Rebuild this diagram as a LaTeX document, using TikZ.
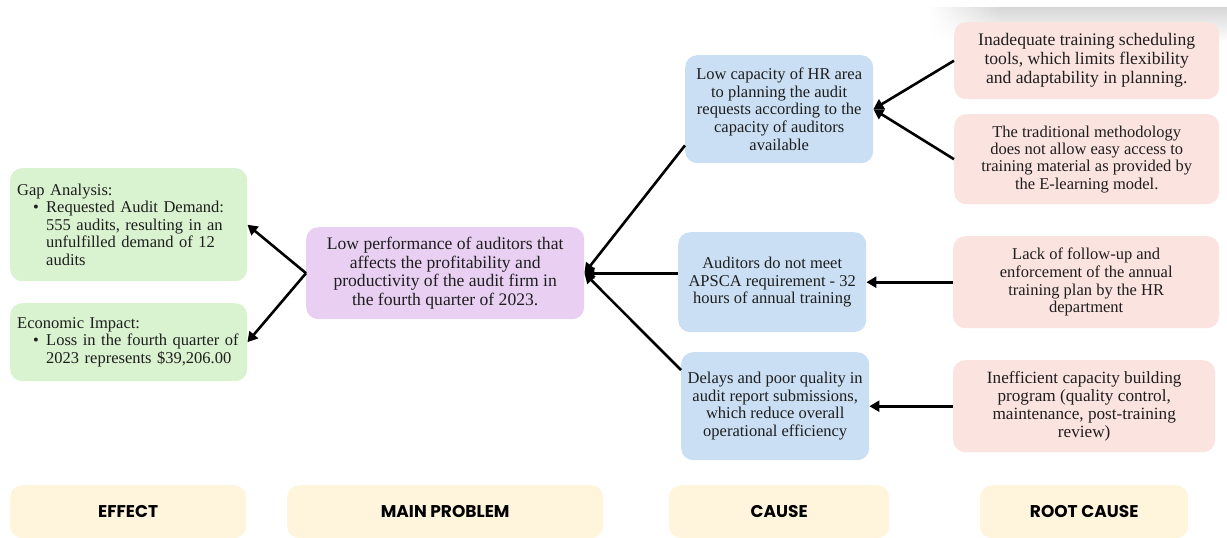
\documentclass[tikz,border=0pt]{standalone}
\usepackage{fontspec}
\setmainfont{Liberation Serif}
\newfontfamily\labfont{Poppins}
\usetikzlibrary{arrows.meta,calc}

\definecolor{effgreen}{HTML}{D9F2D0}
\definecolor{mainpurple}{HTML}{E9D0F3}
\definecolor{causeblue}{HTML}{CADFF3}
\definecolor{rootpink}{HTML}{FBE3DF}
\definecolor{headyellow}{HTML}{FFF5DD}
\definecolor{inkgray}{HTML}{1E1E1E}

\newcommand\bul{\hspace*{16pt}\makebox[13pt][l]{\textbullet}}
\newcommand\ind{\hspace*{29pt}}

\begin{document}
\begin{tikzpicture}[x=1pt,y=-1pt,
  card/.style={rounded corners=12pt, inner sep=0pt, align=center,
    anchor=north west, text=inkgray},
  effect/.style={card, fill=effgreen, align=left, inner xsep=7pt,
    font=\fontsize{16.5}{17.6}\selectfont},
  mainprob/.style={card, fill=mainpurple, font=\fontsize{17.6}{18.9}\selectfont},
  cause/.style={card, fill=causeblue, font=\fontsize{16.5}{17.6}\selectfont},
  root/.style={card, fill=rootpink},
  head/.style={card, fill=headyellow, font=\labfont\bfseries\fontsize{17}{20}\selectfont, text=black},
  arr/.style={line width=2.6pt, -{Triangle[length=10pt,width=11pt]}},
]
\useasboundingbox (0,0) rectangle (1227,538);

% soft grey band along the top right edge, fading out to the left
\foreach \i in {0,...,23} {
  \pgfmathsetmacro\k{16*(\i+1)/24}
  \fill[top color=black!\k, bottom color=white] (930+3*\i,7) rectangle (933.6+3*\i,42);
}
\fill[top color=black!16, bottom color=white] (1002,7) rectangle (1227,42);

% effect column
\node[effect, text width=223pt, minimum height=113pt] (g1) at (10,168)
  {Gap Analysis:\\
   \bul Requested Audit Demand:\\
   \ind 555 audits, resulting in an\\
   \ind unfulfilled demand of 12\\
   \ind audits};
\node[effect, text width=223pt, minimum height=78pt] (g2) at (10,303)
  {Economic Impact:\\
   \bul Loss in the fourth quarter of\\
   \ind 2023 represents \$39,206.00};

% main problem
\node[mainprob, minimum width=278pt, minimum height=92pt] (p) at (306,227)
  {Low performance of auditors that\\
   affects the profitability and\\
   productivity of the audit firm in\\
   the fourth quarter of 2023.};

% causes
\node[cause, minimum width=188pt, minimum height=108pt] (b1) at (685,55)
  {Low capacity of HR area\\
   to planning the audit\\
   requests according to the\\
   capacity of auditors\\
   available};
\node[cause, minimum width=188pt, minimum height=100pt] (b2) at (678,232)
  {Auditors do not meet\\
   APSCA requirement - 32\\
   hours of annual training};
\node[cause, minimum width=188pt, minimum height=108pt] (b3) at (681,352)
  {Delays and poor quality in\\
   audit report submissions,\\
   which reduce overall\\
   operational efficiency};

% root causes
\node[root, font=\fontsize{17.6}{19}\selectfont, minimum width=265pt, minimum height=77pt] (r1) at (954,22)
  {Inadequate training scheduling\\
   tools, which limits flexibility\\
   and adaptability in planning.};
\node[root, font=\fontsize{16.5}{17.3}\selectfont, minimum width=265pt, minimum height=90pt] (r2) at (954,114)
  {The traditional methodology\\
   does not allow easy access to\\
   training material as provided by\\
   the E-learning model.};
\node[root, font=\fontsize{16.5}{17.6}\selectfont, minimum width=266pt, minimum height=92pt] (r3) at (953,236)
  {Lack of follow-up and\\
   enforcement of the annual\\
   training plan by the HR\\
   department};
\node[root, font=\fontsize{17.2}{17.8}\selectfont, minimum width=262pt, minimum height=92pt] (r4) at (953,360)
  {Inefficient capacity building\\
   program (quality control,\\
   maintenance, post-training\\
   review)};

% column headings
\node[head, minimum width=236pt, minimum height=53pt] (l1) at (10,485) {EFFECT};
\node[head, minimum width=316pt, minimum height=53pt] (l2) at (287,485) {MAIN PROBLEM};
\node[head, minimum width=220pt, minimum height=53pt] (l3) at (669,485) {CAUSE};
\node[head, minimum width=208pt, minimum height=53pt] (l4) at (980,485) {ROOT CAUSE};

% connectors
\draw[arr] (p.west) -- (g1.east);
\draw[arr] (p.west) -- (g2.east);
\draw[arr] (b1.201) -- (p.east);
\draw[arr] (b2.west |- p.east) -- (p.east);
\draw[arr] (b3.159) -- (p.east);
\draw[arr] (r1.west) -- (b1.east);
\draw[arr] (r2.west) -- (b1.east);
\draw[arr] (r3.west) -- (b2.east);
\draw[arr] (r4.west) -- (b3.east);
\end{tikzpicture}
\end{document}
